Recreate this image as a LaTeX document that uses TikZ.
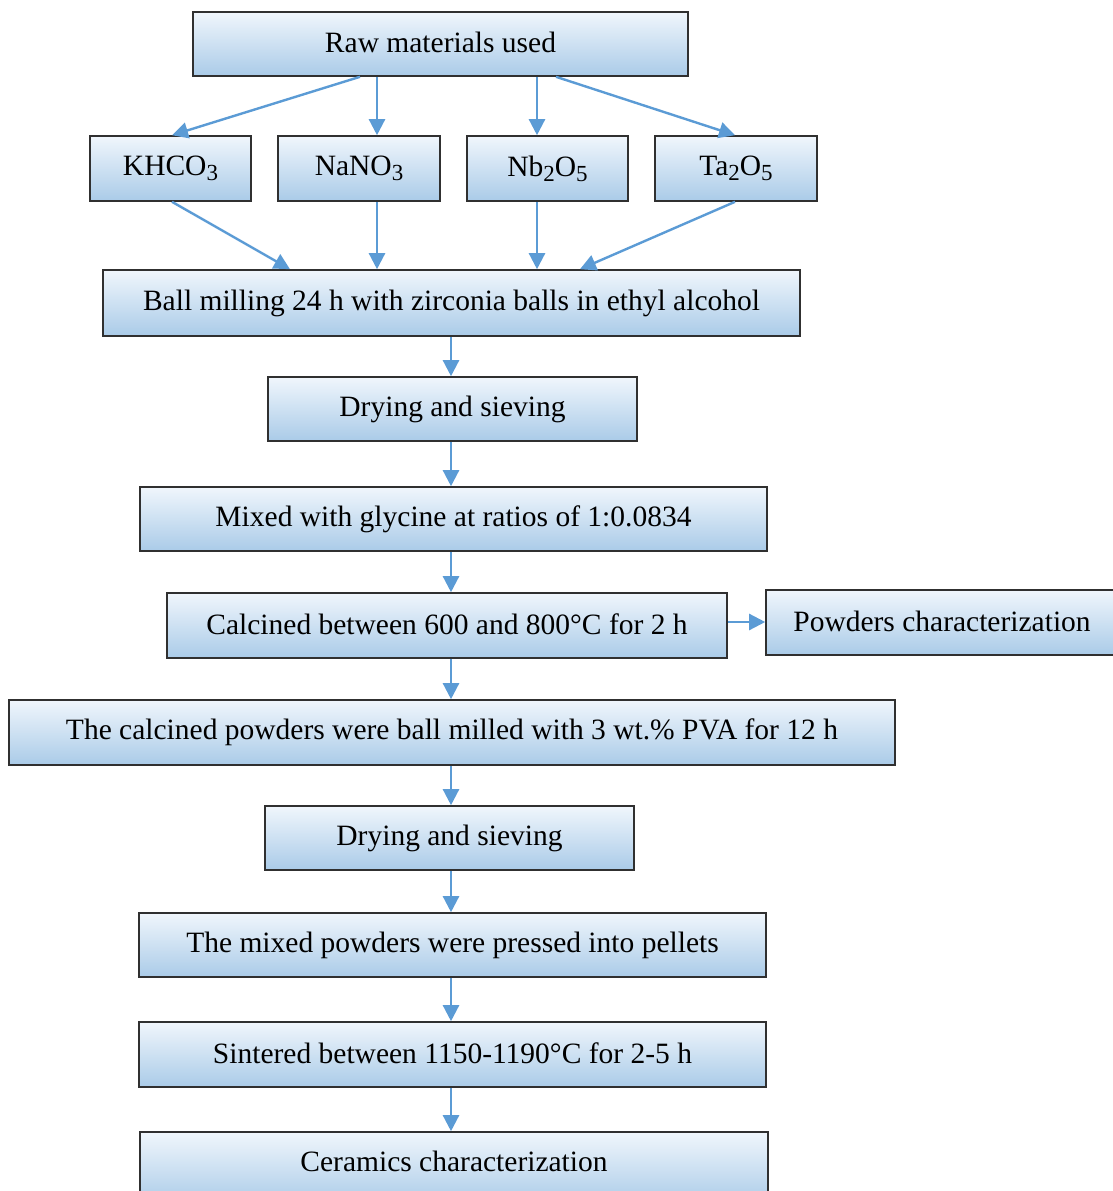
\documentclass[tikz,border=0pt]{standalone}
\usepackage{fontspec}
\setmainfont{Liberation Serif}
\usetikzlibrary{arrows.meta}
\definecolor{arrowblue}{HTML}{5B9BD5}
\definecolor{boxtop}{HTML}{F0F6FC}
\definecolor{boxbot}{HTML}{AACBE8}
\definecolor{boxline}{HTML}{303030}
\newcommand{\sbs}[1]{\raisebox{-5pt}{\fontsize{23}{25}\selectfont #1}}
\tikzset{
  box/.style={draw=boxline, line width=1.6pt, top color=boxtop, bottom color=boxbot,
    inner sep=0pt, font=\fontsize{29.5}{32}\selectfont, text=black},
  flow/.style={draw=arrowblue, line width=2.4pt, -{Triangle[length=16pt,width=16pt]}}
}
\newcommand{\mybox}[6]{% name, x1, y1, x2, y2, text
  \node[box, minimum width={(#4-#2)*1pt}, minimum height={(#5-#3)*1pt}]
    (#1) at ({(#2+#4)/2}, {(#3+#5)/2}) {\raisebox{3pt}{#6}};}
\begin{document}
\begin{tikzpicture}[x=1pt, y=-1pt]
\useasboundingbox (0,0) rectangle (1113,1191);
\clip (0,0) rectangle (1113,1191);
\mybox{raw}{193}{12}{688}{76}{Raw materials used}
\mybox{k}{90}{136}{251}{201}{KHCO\sbs{3}}
\mybox{na}{278}{136}{440}{201}{NaNO\sbs{3}}
\mybox{nb}{467}{136}{628}{201}{Nb\sbs{2}O\sbs{5}}
\mybox{ta}{655}{136}{817}{201}{Ta\sbs{2}O\sbs{5}}
\mybox{ball}{103}{270}{800}{336}{Ball milling 24 h with zirconia balls in ethyl alcohol}
\mybox{dry1}{268}{377}{637}{441}{Drying and sieving}
\mybox{mix}{140}{487}{767}{551}{Mixed with glycine at ratios of 1:0.0834}
\mybox{calc}{167}{593}{727}{658}{Calcined between 600 and 800\textdegree C for 2 h}
\mybox{pow}{766}{590}{1125}{655}{\hspace*{-7pt}Powders characterization}
\mybox{pva}{9}{700}{895}{765}{The calcined powders were ball milled with 3 wt.\% PVA for 12 h}
\mybox{dry2}{265}{806}{634}{870}{Drying and sieving}
\mybox{press}{139}{913}{766}{977}{The mixed powders were pressed into pellets}
\mybox{sint}{139}{1022}{766}{1087}{Sintered between 1150-1190\textdegree C for 2-5 h}
\mybox{cer}{140}{1132}{768}{1205}{\raisebox{12pt}{Ceramics characterization}}

\draw[flow] (raw.south -| 360,0) -- (k.north -| 172,0);
\draw[flow] (raw.south -| 377,0) -- (na.north -| 377,0);
\draw[flow] (raw.south -| 537,0) -- (nb.north -| 537,0);
\draw[flow] (raw.south -| 556,0) -- (ta.north -| 735,0);
\draw[flow] (k.south -| 172,0) -- (ball.north -| 290,0);
\draw[flow] (na.south -| 377,0) -- (ball.north -| 377,0);
\draw[flow] (nb.south -| 537,0) -- (ball.north -| 537,0);
\draw[flow] (ta.south -| 735,0) -- (ball.north -| 580,0);
\draw[flow] (ball.south -| 451,0) -- (dry1.north -| 451,0);
\draw[flow] (dry1.south -| 451,0) -- (mix.north -| 451,0);
\draw[flow] (mix.south -| 451,0) -- (calc.north -| 451,0);
\draw[flow] (calc.south -| 451,0) -- (pva.north -| 451,0);
\draw[flow] (calc.east |- 0,622) -- (pow.west |- 0,622);
\draw[flow] (pva.south -| 451,0) -- (dry2.north -| 451,0);
\draw[flow] (dry2.south -| 451,0) -- (press.north -| 451,0);
\draw[flow] (press.south -| 451,0) -- (sint.north -| 451,0);
\draw[flow] (sint.south -| 451,0) -- (cer.north -| 451,0);
\end{tikzpicture}
\end{document}
